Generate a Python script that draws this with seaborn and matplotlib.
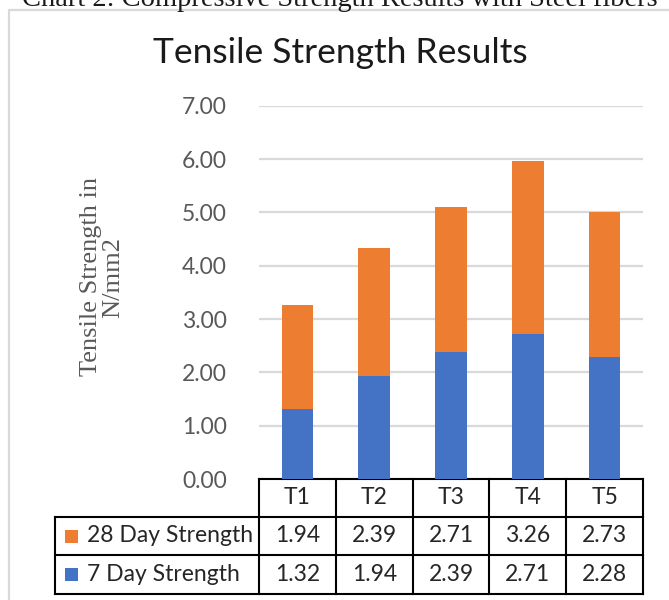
import matplotlib
matplotlib.use("Agg")
import matplotlib.pyplot as plt
import matplotlib.transforms as mtransforms
from matplotlib.lines import Line2D
from matplotlib.patches import Rectangle
import pandas as pd
import seaborn as sns

# Data
categories = ["T1", "T2", "T3", "T4", "T5"]
seven_day = [1.32, 1.94, 2.39, 2.71, 2.28]
twenty_eight_day = [1.94, 2.39, 2.71, 3.26, 2.73]
series_names = ["28 Day Strength", "7 Day Strength"]
y_ticks = [0, 1, 2, 3, 4, 5, 6, 7]

BLUE = "#4472C4"
ORANGE = "#ED7D31"
GRID = "#D9D9D9"
TICK_GRAY = "#595959"
UI_FONT = ["Lato", "DejaVu Sans"]
SERIF_FONT = ["Liberation Serif", "DejaVu Serif"]

sns.set_theme(style="white")
plt.rcParams["font.family"] = UI_FONT

df = pd.DataFrame({
    "test": categories,
    "seven": seven_day,
    "twenty_eight": twenty_eight_day,
})
df["total"] = df["seven"] + df["twenty_eight"]

W, H = 669, 600
fig = plt.figure(figsize=(W / 100, H / 100), dpi=100)
fig.patch.set_facecolor("white")

# axes placed in pixel terms
ax_left, ax_right, ax_bottom, ax_top = 259, 643, 479, 105.7
ax = fig.add_axes([ax_left / W, 1 - ax_bottom / H,
                   (ax_right - ax_left) / W, (ax_bottom - ax_top) / H])

# stacked bars: full height in orange, 7-day portion in blue over it
sns.barplot(data=df, x="test", y="total", color=ORANGE, width=0.41,
            linewidth=0, saturation=1, ax=ax, zorder=3)
sns.barplot(data=df, x="test", y="seven", color=BLUE, width=0.41,
            linewidth=0, saturation=1, ax=ax, zorder=4)

ax.set_xlim(-0.5, len(categories) - 0.5)
ax.set_ylim(0, 7)
ax.set_yticks(y_ticks)
ax.set_yticklabels([f"{v:.2f}" for v in y_ticks], color=TICK_GRAY,
                   fontsize=16.5, family=UI_FONT)
ax.tick_params(axis="y", length=0, pad=23)
ax.set_xticks([])
ax.set_xlabel("")
ax.set_ylabel("")
for sp in ax.spines.values():
    sp.set_visible(False)
ax.yaxis.grid(True, color=GRID, linewidth=1.6, zorder=0)
ax.set_axisbelow(True)

# y axis title (two lines, serif)
fig.text(102 / W, 1 - 277 / H, "Tensile Strength in\nN/mm2", rotation=90,
         ha="center", va="center", color=TICK_GRAY, fontsize=19,
         family=SERIF_FONT, linespacing=1.0)

# chart title
fig.text(340 / W, 1 - 53 / H, "Tensile Strength Results", ha="center",
         va="center", fontsize=25.5, color="#1a1a1a", family=UI_FONT)

# caption above the chart frame, cut by the top edge
fig.text(340 / W, 1 - 6 / H,
         "Chart 2: Compressive Strength Results with Steel fibers",
         ha="center", va="baseline", fontsize=20.5, color="#1a1a1a",
         family=SERIF_FONT)

# chart frame
fig.add_artist(Line2D([9 / W, 9 / W], [0, 1 - 10 / H], transform=fig.transFigure,
                      color=GRID, linewidth=1.6))
fig.add_artist(Line2D([9 / W, 1], [1 - 10 / H, 1 - 10 / H],
                      transform=fig.transFigure, color=GRID, linewidth=1.6))

# data table below the plot
ax_h = ax_bottom - ax_top
ax_w = ax_right - ax_left
def ay(px):
    return (ax_bottom - px) / ax_h
def axx(px):
    return (px - ax_left) / ax_w

row_edges = [479, 517, 555, 594]
label_left = axx(55)
trans = mtransforms.blended_transform_factory(ax.transData, ax.transAxes)
lw = 1.5
kw = dict(color="black", linewidth=lw, clip_on=False, solid_capstyle="projecting")

# horizontal lines
ax.plot([-0.5, len(categories) - 0.5], [ay(row_edges[0])] * 2, transform=trans, **kw)
for r in row_edges[1:]:
    ax.plot([label_left, 1], [ay(r)] * 2, transform=ax.transAxes, **kw)
# vertical lines
for i in range(len(categories) + 1):
    ax.plot([i - 0.5, i - 0.5], [ay(row_edges[0]), ay(row_edges[-1])],
            transform=trans, **kw)
ax.plot([label_left, label_left], [ay(row_edges[1]), ay(row_edges[-1])],
        transform=ax.transAxes, **kw)

TXT = "#262626"
TFS = 16.5
for i, cat in enumerate(categories):
    ax.text(i, ay((row_edges[0] + row_edges[1]) / 2), cat, transform=trans,
            ha="center", va="center", fontsize=TFS, color=TXT)
    ax.text(i, ay((row_edges[1] + row_edges[2]) / 2), f"{twenty_eight_day[i]:.2f}",
            transform=trans, ha="center", va="center", fontsize=TFS, color=TXT)
    ax.text(i, ay((row_edges[2] + row_edges[3]) / 2), f"{seven_day[i]:.2f}",
            transform=trans, ha="center", va="center", fontsize=TFS, color=TXT)

for name, color, (r0, r1) in zip(series_names, [ORANGE, BLUE],
                                 [(row_edges[1], row_edges[2]),
                                  (row_edges[2], row_edges[3])]):
    mid = (r0 + r1) / 2
    sq = 13
    ax.add_patch(Rectangle((axx(65), ay(mid + sq / 2)), sq / ax_w, sq / ax_h,
                           transform=ax.transAxes, facecolor=color,
                           edgecolor="none", clip_on=False))
    ax.text(axx(87), ay(mid), name, transform=ax.transAxes, ha="left",
            va="center", fontsize=TFS, color=TXT)

fig.savefig("out.png", dpi=100, facecolor="white")
